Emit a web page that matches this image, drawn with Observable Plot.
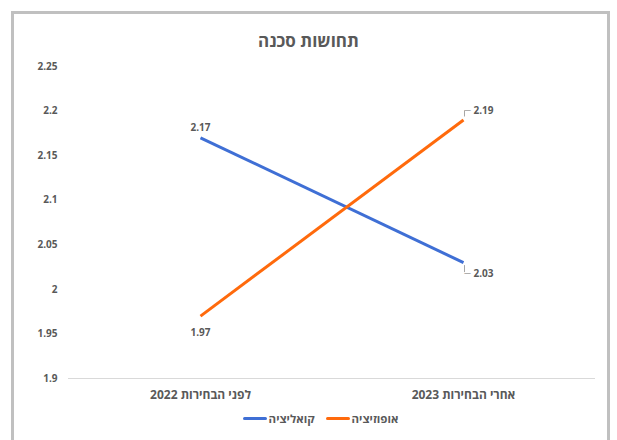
<!DOCTYPE html>
<html>
<head>
<meta charset="utf-8">
<script src="https://cdn.jsdelivr.net/npm/d3@7"></script>
<script src="https://cdn.jsdelivr.net/npm/@observablehq/plot@0.6"></script>
<style>
  html, body { margin: 0; padding: 0; background: #fff; width: 617px; height: 440px; overflow: hidden; }
  body { position: relative; font-family: "Open Sans", "DejaVu Sans", sans-serif; }
  #frame { position: absolute; left: 11px; top: 11px; width: 599px; height: 440px; box-sizing: border-box;
           border: 3px solid #c0c0c0; border-bottom: none; }
  #title { position: absolute; left: 0; top: 29px; width: 617px; text-align: center; direction: rtl;
           font-size: 17px; font-weight: bold; color: #595959; }
  #chart { position: absolute; left: 0; top: 0; }
  #legend { position: absolute; left: 12px; top: 411px; width: 617px; display: flex; justify-content: center;
            direction: rtl; gap: 11px; font-size: 11.5px; font-weight: bold; color: #595959; }
  .item { display: flex; align-items: center; gap: 2px; }
  .sw { display: inline-block; width: 24px; height: 3px; border-radius: 2px; }
</style>
</head>
<body>
<div id="frame"></div>
<div id="title">תחושות סכנה</div>
<div id="chart"></div>
<div id="legend"></div>
<script>
const categories = ["לפני הבחירות 2022", "אחרי הבחירות 2023"];
const seriesNames = ["קואליציה", "אופוזיציה"];
const coalition = [2.17, 2.03];
const opposition = [1.97, 2.19];
const yTicks = [1.9, 1.95, 2, 2.05, 2.1, 2.15, 2.2, 2.25];
const colors = ["#3F6FD5", "#FF6A0C"];

const rows = [];
categories.forEach((c, i) => {
  rows.push({cat: c, series: seriesNames[0], value: coalition[i], idx: i});
  rows.push({cat: c, series: seriesNames[1], value: opposition[i], idx: i});
});

const rtl = s => "\u202B" + s + "\u202C";
const fmt = v => String(+v.toFixed(2));
const textColor = "#595959";
const pick = (i, s) => rows.filter(d => d.idx === i && d.series === seriesNames[s]);

const plot = Plot.plot({
  width: 617,
  height: 400,
  marginTop: 66,
  marginBottom: 22,
  marginLeft: 68,
  marginRight: 22,
  style: {fontFamily: "'Open Sans', 'DejaVu Sans', sans-serif", background: "transparent", overflow: "visible"},
  x: {type: "point", domain: categories, padding: 0.5, label: null},
  y: {type: "linear", domain: [1.9, 2.25], label: null},
  color: {domain: seriesNames, range: colors},
  marks: [
    Plot.ruleY([1.9], {stroke: "#d9d9d9", strokeWidth: 1}),
    Plot.axisY({ticks: yTicks, tickSize: 0, tickPadding: 11, tickFormat: fmt, label: null,
                fontSize: 10, fontWeight: "bold", fill: textColor}),
    Plot.axisX({tickSize: 0, tickPadding: 12, tickFormat: rtl, label: null,
                fontSize: 12, fontWeight: "bold", fill: textColor}),
    Plot.line(rows, {x: "cat", y: "value", z: "series", stroke: "series", strokeWidth: 3, strokeLinecap: "butt"}),
    // leader brackets (vertical parts)
    Plot.ruleX(pick(1, 1), {x: "cat", y1: "value", y2: "value", insetTop: -9, insetBottom: 3, stroke: "#a6a6a6", strokeWidth: 1, dx: 1}),
    Plot.ruleX(pick(1, 0), {x: "cat", y1: "value", y2: "value", insetTop: 3, insetBottom: -10, stroke: "#a6a6a6", strokeWidth: 1, dx: 1}),
    // left labels
    Plot.text(pick(0, 0), {x: "cat", y: "value", text: d => fmt(d.value), dy: -10, fontSize: 10, fontWeight: "bold", fill: textColor}),
    Plot.text(pick(0, 1), {x: "cat", y: "value", text: d => fmt(d.value), dy: 17, fontSize: 10, fontWeight: "bold", fill: textColor}),
    // right labels
    Plot.text(pick(1, 1), {x: "cat", y: "value", text: d => "\u2500 " + fmt(d.value), textAnchor: "start", dx: 1, dy: -9, fontSize: 10, fontWeight: "bold", fill: textColor}),
    Plot.text(pick(1, 0), {x: "cat", y: "value", text: d => "\u2500 " + fmt(d.value), textAnchor: "start", dx: 1, dy: 11, fontSize: 10, fontWeight: "bold", fill: textColor}),
  ]
});
document.getElementById("chart").appendChild(plot);

// make the leader dash lighter
plot.querySelectorAll("text").forEach(t => {
  if (t.textContent.startsWith("\u2500")) {
    const v = t.textContent.slice(2);
    t.textContent = "";
    const a = document.createElementNS("http://www.w3.org/2000/svg", "tspan");
    a.setAttribute("fill", "#a6a6a6"); a.setAttribute("font-weight", "normal");
    a.textContent = "\u2500";
    const b = document.createElementNS("http://www.w3.org/2000/svg", "tspan");
    b.setAttribute("dx", "3");
    b.textContent = v;
    t.appendChild(a); t.appendChild(b);
  }
});

const legend = document.getElementById("legend");
[1, 0].forEach(i => {
  const it = document.createElement("div");
  it.className = "item";
  const t = document.createElement("span");
  t.textContent = seriesNames[i];
  const sw = document.createElement("span");
  sw.className = "sw";
  sw.style.background = colors[i];
  it.appendChild(t);
  it.appendChild(sw);
  legend.appendChild(it);
});
</script>
</body>
</html>
